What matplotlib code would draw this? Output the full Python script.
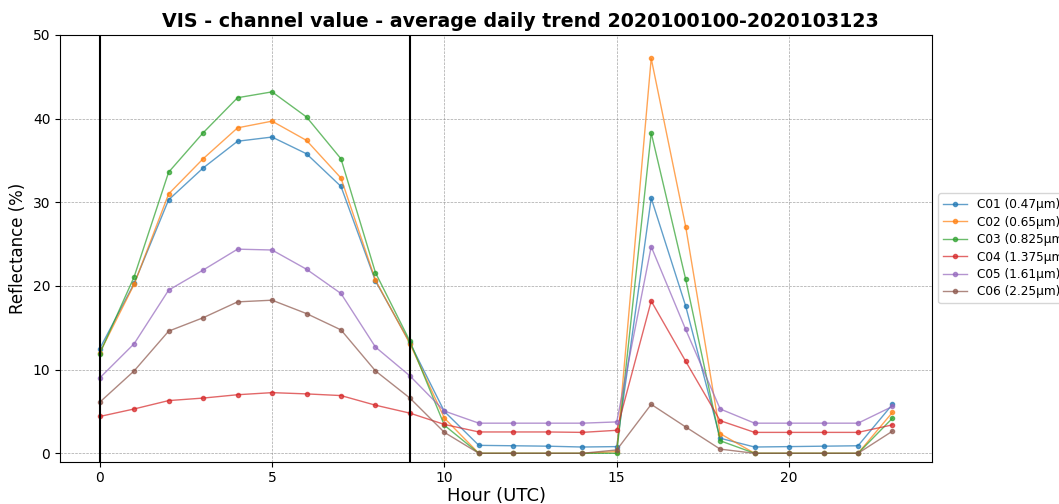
import matplotlib
matplotlib.use('Agg')
import matplotlib.pyplot as plt

# Hourly averages of reflectance per visible/NIR channel
hours = list(range(24))
channels = ['C01 (0.47µm)', 'C02 (0.65µm)', 'C03 (0.825µm)',
            'C04 (1.375µm)', 'C05 (1.61µm)', 'C06 (2.25µm)']

c01 = [12.5, 20.3, 30.3, 34.1, 37.3, 37.8, 35.8, 31.9, 20.6, 13.2, 5.0, 0.95,
       0.9, 0.85, 0.75, 0.8, 30.5, 17.6, 1.8, 0.75, 0.8, 0.85, 0.9, 5.85]
c02 = [12.0, 20.2, 31.0, 35.2, 38.9, 39.7, 37.4, 32.9, 20.7, 13.1, 4.2, 0.0,
       0.0, 0.0, 0.0, 0.2, 47.2, 27.1, 2.35, 0.0, 0.0, 0.0, 0.0, 4.9]
c03 = [11.9, 21.1, 33.6, 38.3, 42.5, 43.2, 40.2, 35.2, 21.6, 13.4, 3.35, 0.0,
       0.0, 0.0, 0.0, 0.0, 38.3, 20.8, 1.5, 0.0, 0.0, 0.0, 0.0, 4.2]
c04 = [4.4, 5.3, 6.3, 6.6, 7.0, 7.25, 7.1, 6.9, 5.75, 4.8, 3.45, 2.55,
       2.55, 2.55, 2.5, 2.75, 18.2, 11.0, 3.9, 2.5, 2.5, 2.5, 2.5, 3.4]
c05 = [9.0, 13.1, 19.5, 21.9, 24.4, 24.3, 22.0, 19.1, 12.7, 9.25, 5.05, 3.6,
       3.6, 3.6, 3.6, 3.75, 24.7, 14.8, 5.3, 3.6, 3.6, 3.6, 3.6, 5.6]
c06 = [6.1, 9.85, 14.6, 16.2, 18.1, 18.3, 16.7, 14.75, 9.85, 6.6, 2.5, 0.0,
       0.0, 0.0, 0.0, 0.4, 5.85, 3.15, 0.5, 0.0, 0.0, 0.0, 0.0, 2.65]
series = [c01, c02, c03, c04, c05, c06]

fig = plt.figure(figsize=(10.59, 5.04), dpi=100)
ax = fig.add_axes([0.0567, 0.084, 0.8235, 0.8466])

for name, vals in zip(channels, series):
    ax.plot(hours, vals, marker='o', markersize=3, linewidth=1, alpha=0.7, label=name)

# day window markers
ax.axvline(0, color='black', linewidth=1.5)
ax.axvline(9, color='black', linewidth=1.5)

ax.set_ylim(-1, 50)
ax.grid(True, linestyle='--', linewidth=0.5, color='gray', alpha=0.7)
ax.set_title('VIS - channel value - average daily trend 2020100100-2020103123',
             fontsize=13.7, fontweight='bold', x=0.5275)
ax.set_xlabel('Hour (UTC)', fontsize=13, labelpad=1)
ax.set_ylabel('Reflectance (%)', fontsize=12)
ax.tick_params(labelsize=10)
ax.legend(loc='center left', bbox_to_anchor=(1.0, 0.5), fontsize=8.7,
          labelspacing=0.37)

fig.savefig('out.png', dpi=100)
